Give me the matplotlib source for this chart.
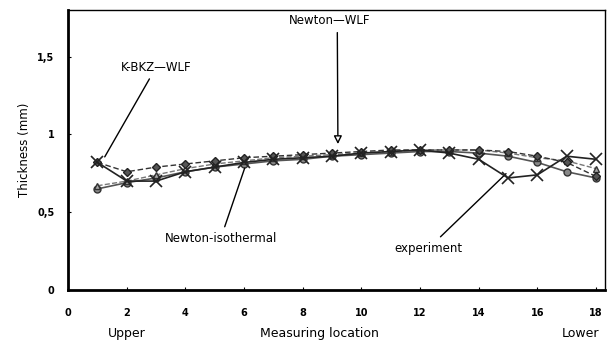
import numpy as np
import matplotlib
matplotlib.use('Agg')
import matplotlib.pyplot as plt

location = np.arange(1, 19)
experiment = [0.82, 0.70, 0.70, 0.76, 0.79, 0.82, 0.84, 0.85, 0.86, 0.88, 0.89, 0.90, 0.88, 0.84, 0.72, 0.74, 0.86, 0.84]
kbkz_wlf = [0.82, 0.76, 0.79, 0.81, 0.83, 0.85, 0.86, 0.87, 0.88, 0.89, 0.90, 0.90, 0.90, 0.90, 0.89, 0.86, 0.82, 0.73]
newton_wlf = [0.67, 0.70, 0.74, 0.78, 0.81, 0.83, 0.85, 0.86, 0.87, 0.88, 0.89, 0.90, 0.90, 0.90, 0.88, 0.85, 0.83, 0.78]
newton_iso = [0.65, 0.69, 0.72, 0.76, 0.79, 0.81, 0.83, 0.84, 0.86, 0.87, 0.88, 0.89, 0.89, 0.88, 0.86, 0.82, 0.76, 0.72]

xticks = [0, 2, 4, 6, 8, 10, 12, 14, 16, 18]
yticks = [0, 0.5, 1, 1.5]
ytick_labels = ['0', '0,5', '1', '1,5']

plt.rcParams['font.family'] = ['DejaVu Sans']
fig = plt.figure(figsize=(6.14, 3.42), dpi=100)
ax = fig.add_axes([0.111, 0.152, 0.874, 0.819])

ax.plot(location, newton_iso, color='#555555', lw=1.2, marker='o', ms=5,
        mfc='#888888', mec='#333333', zorder=3)
ax.plot(location, newton_wlf, color='#777777', lw=1.0, ls='--', marker='^', ms=5,
        mfc='#aaaaaa', mec='#333333', zorder=3)
ax.plot(location, kbkz_wlf, color='#333333', lw=1.0, ls=(0, (4, 2)), marker='D', ms=4,
        mfc='#555555', mec='#222222', zorder=3)
ax.plot(location, experiment, color='#222222', lw=1.2, marker='x', ms=8, mew=1.2,
        mec='#222222', zorder=4)

ax.set_xlim(0, 18.3)
ax.set_ylim(0, 1.8)
ax.set_xticks(xticks)
ax.set_xticklabels([str(t) for t in xticks], fontsize=7, fontweight='bold')
ax.set_yticks(yticks)
ax.set_yticklabels(ytick_labels, fontsize=7, fontweight='bold')
ax.tick_params(axis='both', length=2, direction='in')
ax.tick_params(axis='x', pad=13)
ax.tick_params(axis='y', pad=10)

for side in ['left', 'bottom']:
    ax.spines[side].set_linewidth(2)
for side in ['top', 'right']:
    ax.spines[side].set_linewidth(1)

ax.set_ylabel('Thickness (mm)', fontsize=8.5)
fig.text(0.52, 0.026, 'Measuring location', fontsize=9, ha='center', va='center')
fig.text(0.207, 0.026, 'Upper', fontsize=9, ha='center', va='center')
fig.text(0.945, 0.026, 'Lower', fontsize=9, ha='center', va='center')

line = dict(arrowstyle='-', color='black', lw=1)
ax.annotate('K-BKZ—WLF', xy=(1.2, 0.84), xytext=(3.0, 1.39), fontsize=8.5,
            ha='center', va='bottom', arrowprops=line)
ax.annotate('Newton—WLF', xy=(9.2, 0.92), xytext=(8.9, 1.69), fontsize=8.5,
            ha='center', va='bottom',
            arrowprops=dict(arrowstyle='-|>', color='black', lw=1, mutation_scale=12,
                            fc='white', relpos=(0.6, 0.0)))
ax.annotate('Newton-isothermal', xy=(6.05, 0.80), xytext=(5.2, 0.33), fontsize=8.5,
            ha='center', va='center', arrowprops=line)
ax.annotate('experiment', xy=(15.0, 0.76), xytext=(12.3, 0.27), fontsize=8.5,
            ha='center', va='center', arrowprops=line)

fig.savefig('out.png', dpi=100)
